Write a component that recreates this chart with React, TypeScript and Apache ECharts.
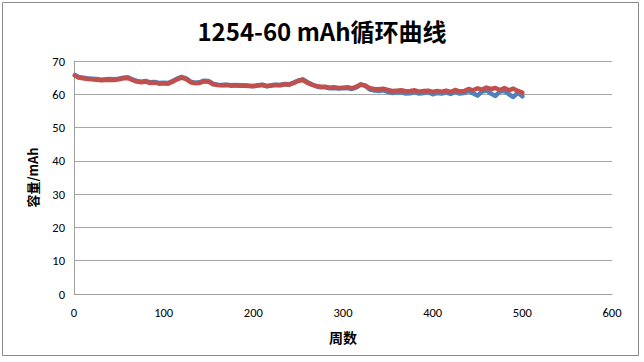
import React, { useEffect, useRef } from "react";
import * as echarts from "echarts";

const cycles = [
  1, 5, 10, 15, 20, 25, 30, 35, 40, 45, 50, 55, 60, 65, 70, 75, 80, 85, 90, 95,
  100, 105, 110, 115, 120, 125, 130, 135, 140, 145, 150, 155, 160, 165, 170, 175, 180, 185, 190, 195,
  200, 205, 210, 215, 220, 225, 230, 235, 240, 245, 250, 255, 260, 265, 270, 275, 280, 285, 290, 295,
  300, 305, 310, 315, 320, 325, 330, 335, 340, 345, 350, 355, 360, 365, 370, 375, 380, 385, 390, 395,
  400, 405, 410, 415, 420, 425, 430, 435, 440, 445, 450, 455, 460, 465, 470, 475, 480, 485, 490, 495,
  500,
];

const blueValues = [
  65.8, 65.2, 65.0, 64.8, 64.7, 64.6, 64.4, 64.5, 64.6, 64.5, 64.7, 65.0, 65.1, 64.5, 64.0, 63.8, 64.0, 63.6, 63.7, 63.4,
  63.5, 63.4, 64.0, 64.7, 65.2, 64.8, 63.8, 63.5, 63.6, 64.1, 64.0, 63.2, 62.9, 62.8, 62.9, 62.7, 62.8, 62.7, 62.7, 62.6,
  62.5, 62.7, 62.9, 62.4, 62.7, 62.9, 62.8, 63.1, 63.0, 63.5, 64.1, 64.5, 63.7, 63.0, 62.4, 62.1, 62.1, 61.8, 61.9, 61.7,
  61.8, 61.9, 61.6, 62.1, 62.9, 62.5, 61.4, 61.1, 61.0, 61.2, 60.7, 60.4, 60.5, 60.6, 60.2, 60.3, 60.6, 60.2, 60.4, 60.6,
  60.0, 60.4, 60.2, 60.5, 60.1, 60.7, 60.2, 60.4, 61.0, 60.3, 59.6, 60.8, 61.2, 60.2, 59.5, 60.8, 61.0, 60.0, 59.2, 60.5,
  59.4,
];

const redValues = [
  65.6, 65.0, 64.8, 64.6, 64.5, 64.4, 64.2, 64.3, 64.4, 64.3, 64.5, 64.8, 64.9, 64.3, 63.8, 63.6, 63.8, 63.4, 63.5, 63.2,
  63.3, 63.2, 63.8, 64.5, 65.0, 64.6, 63.6, 63.3, 63.4, 63.9, 63.8, 63.0, 62.8, 62.7, 62.8, 62.6, 62.7, 62.6, 62.6, 62.5,
  62.4, 62.6, 62.8, 62.5, 62.6, 62.8, 62.7, 63.0, 62.9, 63.4, 64.0, 64.3, 63.5, 62.9, 62.5, 62.3, 62.3, 62.0, 62.1, 61.9,
  62.0, 62.1, 61.8, 62.3, 63.0, 62.6, 61.8, 61.6, 61.5, 61.7, 61.3, 61.0, 61.1, 61.2, 60.9, 61.0, 61.2, 60.8, 61.0, 61.1,
  60.7, 61.0, 60.8, 61.1, 60.7, 61.3, 60.9, 61.0, 61.6, 61.2, 61.8, 61.4, 62.0, 61.6, 61.9, 61.3, 61.9, 61.2, 61.7, 61.0,
  60.5,
];

const xTicks = { min: 0, max: 600, interval: 100 };
const yTicks = { min: 0, max: 70, interval: 10 };

const titleText = "1254-60 mAh循环曲线";
const xName = "周数";
const yName = "容量/mAh";

export default function App() {
  const ref = useRef<HTMLDivElement>(null);
  useEffect(() => {
    if (!ref.current) return;
    const chart = echarts.init(ref.current, undefined, { renderer: "svg" });
    const font = "Calibri, 'Liberation Sans', 'Noto Sans CJK SC', sans-serif";
    const cjk = "'Noto Sans CJK SC', sans-serif";
    chart.setOption({
      animation: false,
      backgroundColor: "#ffffff",
      textStyle: { fontFamily: font },
      title: {
        text: titleText,
        left: "center",
        top: 13,
        textStyle: { fontSize: 24, fontWeight: "bold", color: "#000", fontFamily: cjk },
      },
      graphic: [
        {
          type: "rect",
          shape: { x: 2.5, y: 2.5, width: 636, height: 353 },
          style: { fill: "none", stroke: "#8a8a8a", lineWidth: 1 },
          silent: true,
        },
      ],
      grid: { left: 74, right: 32, top: 61, bottom: 68 },
      xAxis: {
        type: "value",
        min: xTicks.min,
        max: xTicks.max,
        interval: xTicks.interval,
        name: xName,
        nameLocation: "middle",
        nameGap: 36,
        nameTextStyle: { fontSize: 14, fontWeight: "bold", color: "#000", fontFamily: cjk },
        axisLine: { show: true, lineStyle: { color: "#a0a0a0", width: 1 } },
        axisTick: { show: false },
        axisLabel: { fontSize: 12.5, color: "#000", margin: 12 },
        splitLine: { show: false },
      },
      yAxis: {
        type: "value",
        min: yTicks.min,
        max: yTicks.max,
        interval: yTicks.interval,
        name: yName,
        nameLocation: "middle",
        nameGap: 35,
        nameRotate: 90,
        nameTextStyle: { fontSize: 13, fontWeight: "bold", color: "#000", fontFamily: cjk },
        axisLine: { show: true, lineStyle: { color: "#a0a0a0", width: 1 } },
        axisTick: { show: false },
        axisLabel: { fontSize: 12.5, color: "#000", margin: 9 },
        splitLine: { show: true, lineStyle: { color: "#a6a6a6", width: 1 } },
      },
      series: [
        {
          type: "line",
          name: "blue",
          data: cycles.map((c, i) => [c, blueValues[i]]),
          symbol: "none",
          lineStyle: { color: "#4f81bd", width: 4.5, join: "round", cap: "round" },
          itemStyle: { color: "#4f81bd" },
        },
        {
          type: "line",
          name: "red",
          data: cycles.map((c, i) => [c, redValues[i]]),
          symbol: "none",
          lineStyle: { color: "#c0504d", width: 4.5, join: "round", cap: "round" },
          itemStyle: { color: "#c0504d" },
        },
      ],
    });
    return () => chart.dispose();
  }, []);
  return (
    <div
      ref={ref}
      style={{ position: "absolute", left: 0, top: 0, width: 644, height: 362 }}
    />
  );
}
